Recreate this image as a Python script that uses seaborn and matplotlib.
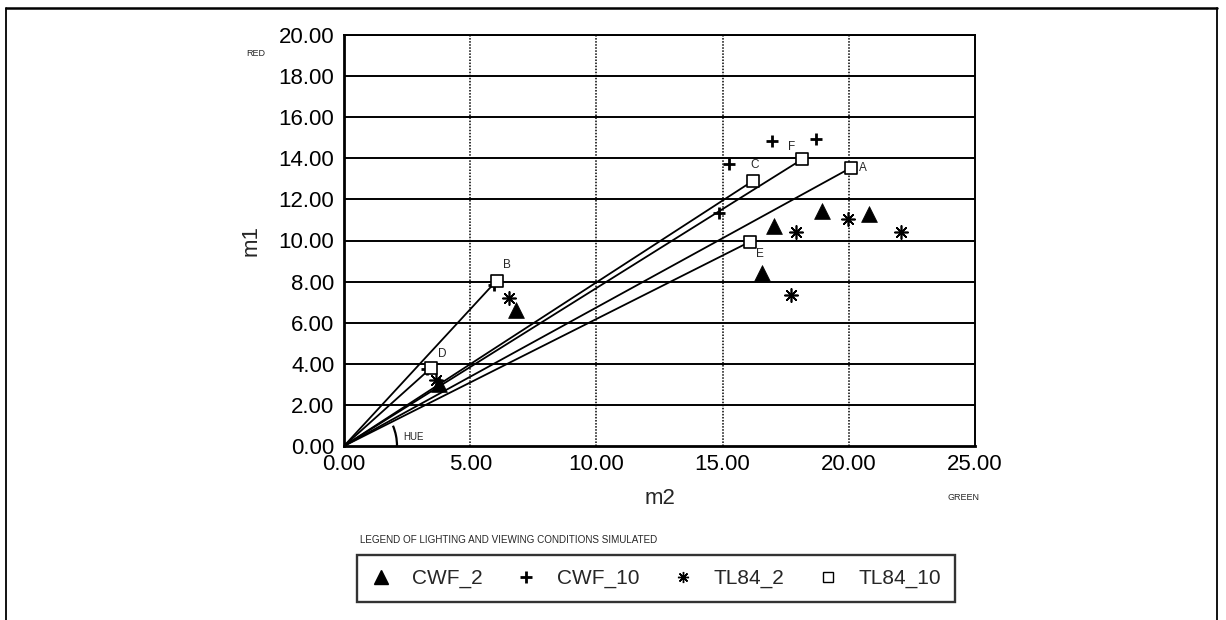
import numpy as np
import pandas as pd
import matplotlib
matplotlib.use("Agg")
import matplotlib.pyplot as plt
import seaborn as sns
from matplotlib.lines import Line2D
from matplotlib.patches import Arc

# ---------------- data ----------------
cwf2_m2 = [6.8, 3.75, 17.05, 18.95, 20.8, 16.55]
cwf2_m1 = [6.6, 3.0, 10.7, 11.45, 11.3, 8.4]

cwf10_m2 = [5.95, 3.3, 15.25, 16.95, 18.7, 14.85]
cwf10_m1 = [7.85, 3.75, 13.7, 14.85, 14.95, 11.35]

tl842_m2 = [6.55, 3.65, 17.9, 19.95, 22.05, 17.7]
tl842_m1 = [7.2, 3.2, 10.4, 11.05, 10.4, 7.35]

tl8410_labels = ["A", "B", "C", "D", "E", "F"]
tl8410_m2 = [20.1, 6.05, 16.2, 3.45, 16.1, 18.15]
tl8410_m1 = [13.55, 8.05, 12.9, 3.8, 9.95, 13.95]

series_names = ["CWF_2", "CWF_10", "TL84_2", "TL84_10"]
x_ticks = [0, 5, 10, 15, 20, 25]
y_ticks = [0, 2, 4, 6, 8, 10, 12, 14, 16, 18, 20]

# ---------------- style ----------------
sns.set_style("white")
plt.rcParams["font.family"] = ["Liberation Sans", "DejaVu Sans"]

W, H = 1226, 620
fig = plt.figure(figsize=(W / 100, H / 100), dpi=100)
L, R, T, B = 344, 975, 35, 446
ax = fig.add_axes([L / W, 1 - B / H, (R - L) / W, (B - T) / H])

# rays from the origin to each TL84_10 point
rays = pd.DataFrame({
    "m2": np.ravel([[0.0, x] for x in tl8410_m2]),
    "m1": np.ravel([[0.0, y] for y in tl8410_m1]),
    "seg": np.repeat(tl8410_labels, 2),
})
sns.lineplot(data=rays, x="m2", y="m1", units="seg", estimator=None,
             color="black", lw=1.3, sort=False, ax=ax, zorder=3)

# scatter series
sns.scatterplot(x=cwf2_m2, y=cwf2_m1, marker="^", s=130, color="black",
                edgecolor="black", linewidth=0.5, ax=ax, zorder=4)
sns.scatterplot(x=cwf10_m2, y=cwf10_m1, marker="+", s=85, color="black",
                linewidth=2.0, ax=ax, zorder=4)
sns.scatterplot(x=tl842_m2, y=tl842_m1, marker=(8, 2, 0), s=90, color="black",
                linewidth=1.2, ax=ax, zorder=4)
sns.scatterplot(x=tl8410_m2, y=tl8410_m1, marker="s", s=64, facecolor="white",
                edgecolor="black", linewidth=1.2, ax=ax, zorder=5)

# point labels
offsets = {"A": (12, 0), "B": (10, 16), "C": (2, 16), "D": (11, 14),
           "E": (10, -12), "F": (-10, 12)}
for lab, x, y in zip(tl8410_labels, tl8410_m2, tl8410_m1):
    dx, dy = offsets[lab]
    ax.annotate(lab, (x, y), xytext=(dx, dy), textcoords="offset pixels",
                fontsize=8.5, ha="center", va="center")

# HUE arc
rx = 2.1
ry = rx * (631 / 25) / (411 / 20)
ax.add_patch(Arc((0, 0), 2 * rx, 2 * ry, theta1=0, theta2=27,
                 color="black", lw=1.6, zorder=4))
ax.text(2.35, 0.45, "HUE", fontsize=7, ha="left", va="center")

# axes
ax.set_xlim(0, 25)
ax.set_ylim(0, 20)
ax.set_xticks(x_ticks)
ax.set_yticks(y_ticks)
ax.set_xticklabels([f"{v:.2f}" for v in x_ticks], fontsize=16)
ax.set_yticklabels([f"{v:.2f}" for v in y_ticks], fontsize=16)
ax.tick_params(axis="both", direction="inout", length=10, width=1.2,
               colors="black", pad=2)
ax.tick_params(axis="x", pad=1)

ax.grid(False)
for y in y_ticks[1:]:
    ax.axhline(y, color="black", lw=1.4, zorder=1)
for x in x_ticks[1:-1]:
    ax.axvline(x, color="black", lw=1.1, ls=(0, (1, 1)), zorder=1)

for side in ["left", "bottom"]:
    ax.spines[side].set_linewidth(2.0)
    ax.spines[side].set_color("black")
for side in ["top", "right"]:
    ax.spines[side].set_linewidth(1.4)
    ax.spines[side].set_color("black")

ax.set_xlabel("m2", fontsize=16, labelpad=9)
ax.set_ylabel("m1", fontsize=16, labelpad=12)

ax.text(-0.14, 0.955, "RED", transform=ax.transAxes, fontsize=6.5,
        ha="center", va="center", family=["Liberation Sans Narrow", "Liberation Sans"])
fig.text(963 / W, 1 - 498 / H, "GREEN", fontsize=6.5, ha="center", va="center",
         family=["Liberation Sans Narrow", "Liberation Sans"])

# legend
handles = [
    Line2D([], [], marker="^", ls="", color="black", markersize=10),
    Line2D([], [], marker="+", ls="", color="black", markersize=9, markeredgewidth=2.0),
    Line2D([], [], marker=(8, 2, 0), ls="", color="black", markersize=8, markeredgewidth=1.0),
    Line2D([], [], marker="s", ls="", markerfacecolor="white", markeredgecolor="black",
           markersize=7, markeredgewidth=1.0),
]
leg = fig.legend(handles, series_names, ncol=4, loc="center",
                 bbox_to_anchor=(357 / W, 1 - 606 / H, (955 - 357) / W, 55 / H),
                 mode="expand", frameon=True, fancybox=False, edgecolor="black",
                 fontsize=15, handlelength=1.0, handletextpad=1.0,
                 borderpad=0.65, borderaxespad=0)
leg.get_frame().set_linewidth(1.7)
fig.text(360 / W, 1 - 540 / H, "LEGEND OF LIGHTING AND VIEWING CONDITIONS SIMULATED",
         fontsize=7.1, ha="left", va="center",
         family=["Liberation Sans Narrow", "Liberation Sans"])

# outer frame (left, top, right)
fx0, fx1, fy = 6 / W, 1217 / W, 1 - 8 / H
fig.add_artist(Line2D([fx0, fx0], [0, fy], color="black", lw=1.3, transform=fig.transFigure))
fig.add_artist(Line2D([fx0, fx1], [fy, fy], color="black", lw=1.8, transform=fig.transFigure))
fig.add_artist(Line2D([fx1, fx1], [0, fy], color="black", lw=1.3, transform=fig.transFigure))

fig.savefig("out.png", dpi=100)
